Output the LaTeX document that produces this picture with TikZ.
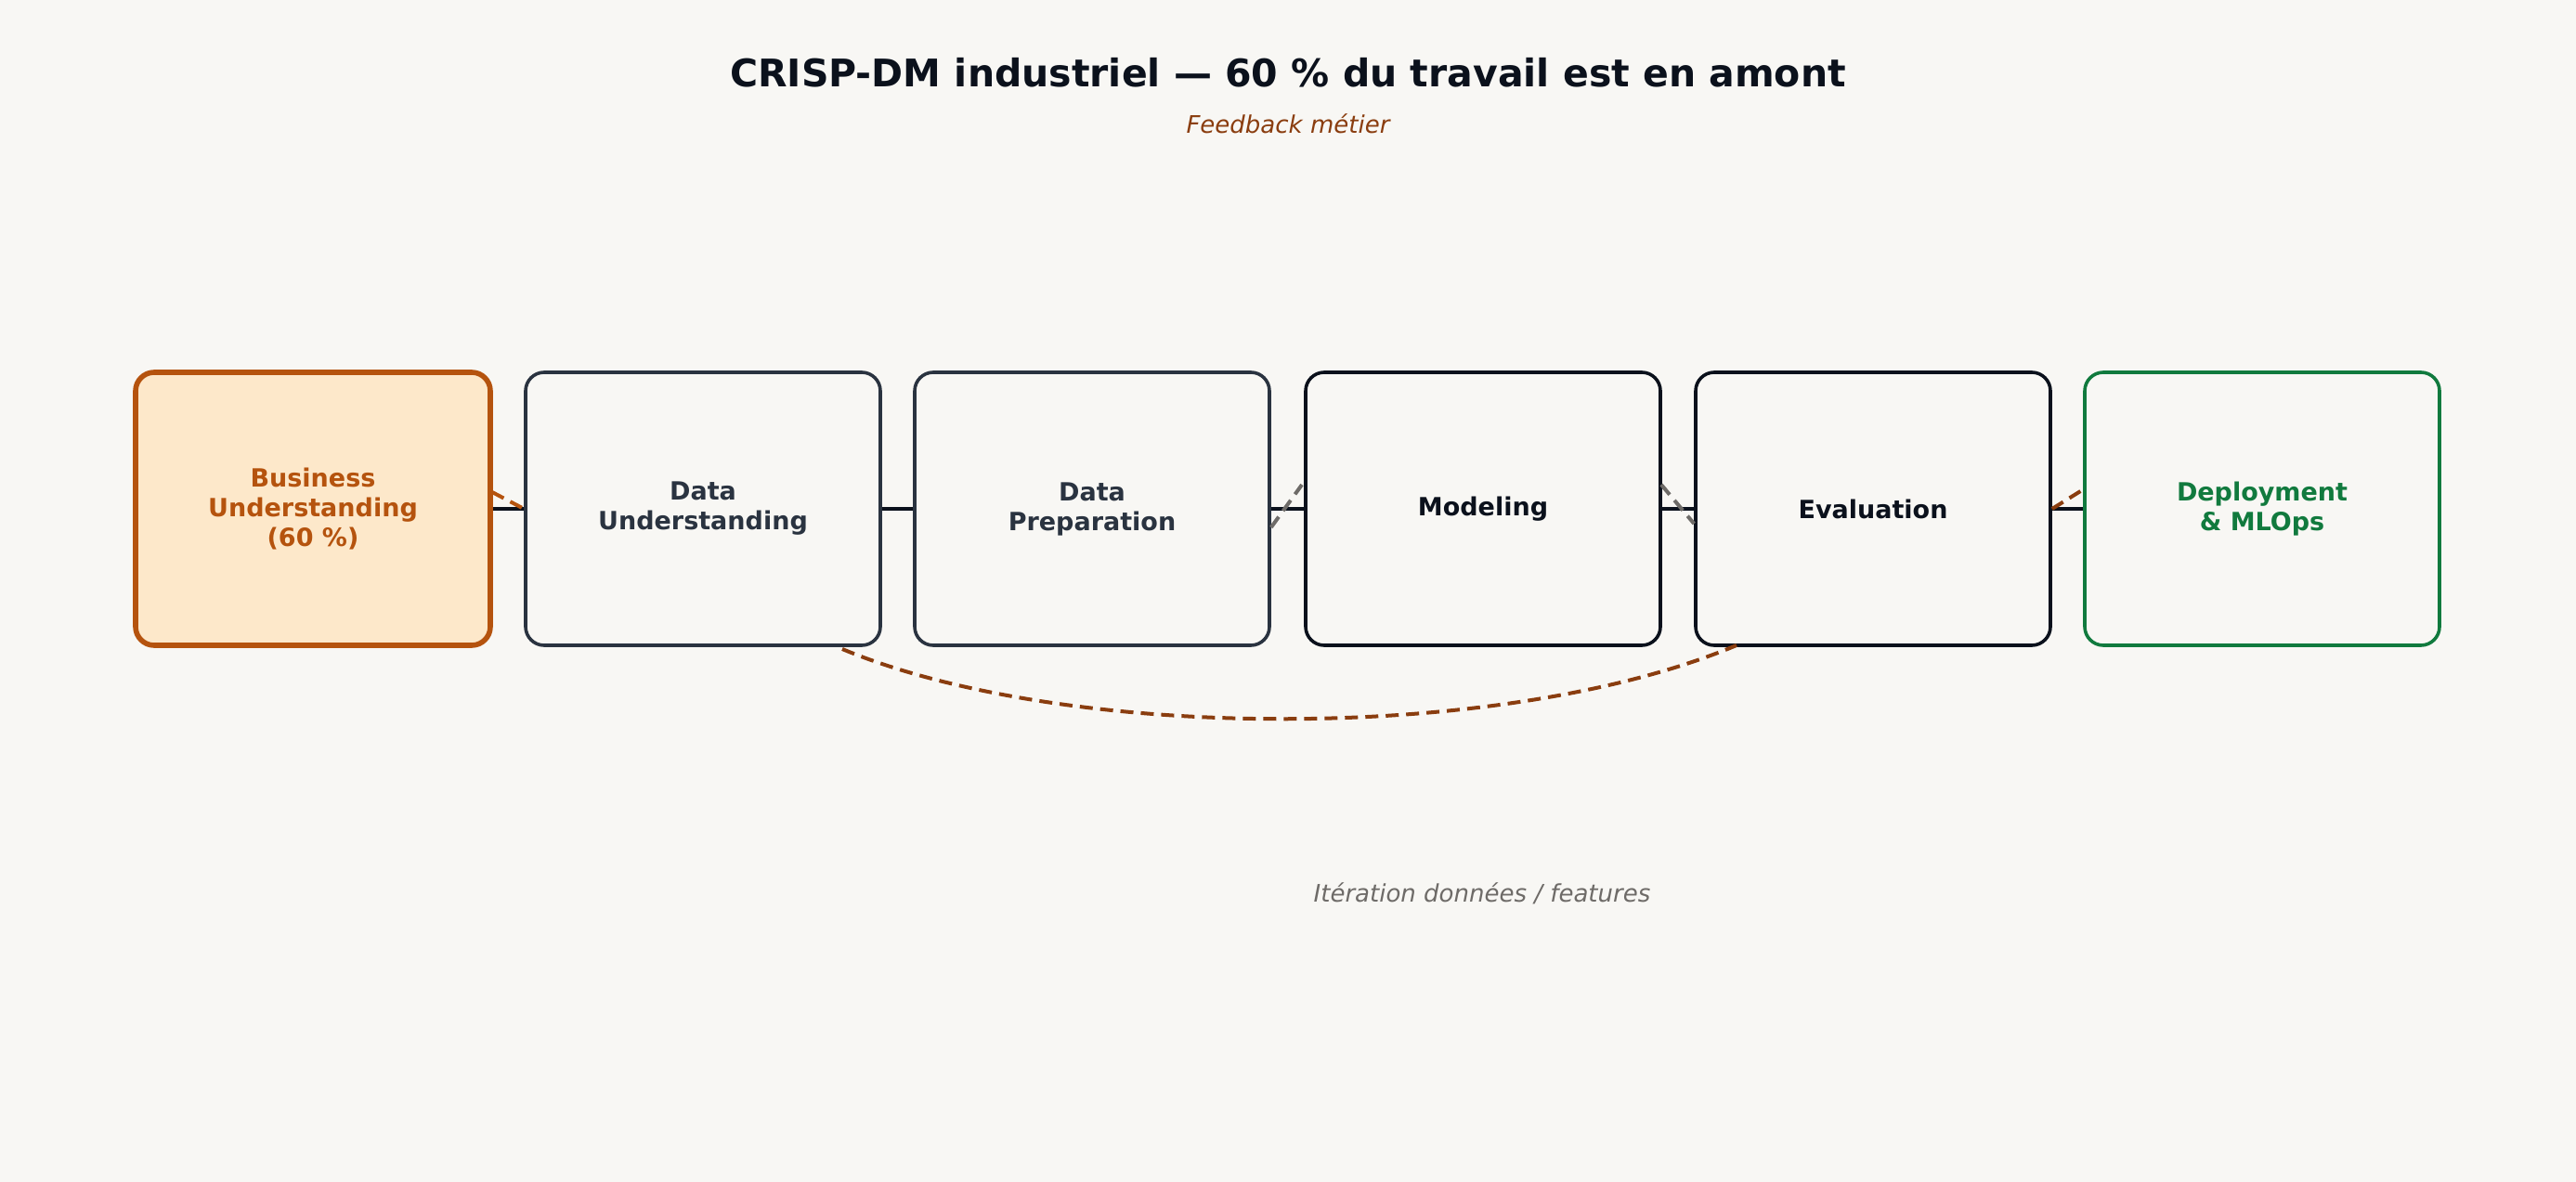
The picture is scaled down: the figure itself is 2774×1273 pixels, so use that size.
\documentclass[tikz,border=0pt]{standalone}
\usepackage{fontspec}
\setmainfont{DejaVu Sans}
\usetikzlibrary{calc}
\begin{document}
\begin{tikzpicture}[x=0.5pt,y=-0.5pt,
  box/.style={draw,rounded corners=10pt,line width=1.8pt,minimum width=191pt,minimum height=147pt,align=center,font=\bfseries\fontsize{13.5}{16}\selectfont,fill=bgc},
  stub/.style={dashed,line width=2pt,dash pattern=on 7pt off 4pt}]
\definecolor{bgc}{HTML}{F8F7F4}
\definecolor{dk}{HTML}{0B111C}
\definecolor{sl}{HTML}{2A3340}
\definecolor{org}{HTML}{B5530E}
\definecolor{orgf}{HTML}{FDE8CA}
\definecolor{brn}{HTML}{8A3D0F}
\definecolor{grn}{HTML}{117A3E}
\definecolor{gry}{HTML}{6E6B68}
\fill[bgc] (0,0) rectangle (2774,1273);
\useasboundingbox (0,0) rectangle (2774,1273);
\node[font=\bfseries\fontsize{20.5}{24}\selectfont,text=dk] (title) at (1387,78) {CRISP-DM industriel — 60 \% du travail est en amont};
\node[font=\itshape\fontsize{13}{16}\selectfont,text=brn] (fb) at (1387,133) {Feedback métier};
\node[box,draw=org,fill=orgf,text=org,line width=2.8pt] (b1) at (337,548) {Business\\Understanding\\(60 \%)};
\node[box,draw=sl,text=sl] (b2) at (757,548) {Data\\Understanding};
\node[box,draw=sl,text=sl] (b3) at (1176,548) {Data\\Preparation};
\node[box,draw=dk,text=dk] (b4) at (1597,548) {Modeling};
\node[box,draw=dk,text=dk] (b5) at (2017,548) {Evaluation};
\node[box,draw=grn,text=grn] (b6) at (2436,548) {Deployment\\\& MLOps};
\foreach \a/\b in {b1/b2,b2/b3,b3/b4,b4/b5,b5/b6} \draw[dk,line width=1.8pt] (\a.east) -- (\b.west);
\coordinate (s1) at (530,530); \coordinate (s2) at (1402,522);
\coordinate (s3) at (1789,522); \coordinate (s4) at (2242,528);
\draw[stub,org] (s1) -- (b2.west);
\draw[stub,gry] ($(b3.east)+(0,-10pt)$) -- (s2);
\draw[stub,gry] (s3) -- ($(b5.west)+(0,-8pt)$);
\draw[stub,brn] (b5.east) -- (s4);
\coordinate (c1) at (907,699); \coordinate (c2) at (1870,695);
\draw[stub,brn] (c1) .. controls (1150,800) and (1620,800) .. (c2);
\node[font=\itshape\fontsize{13}{16}\selectfont,text=gry] (it) at (1596,962) {Itération données / features};
\end{tikzpicture}
\end{document}
